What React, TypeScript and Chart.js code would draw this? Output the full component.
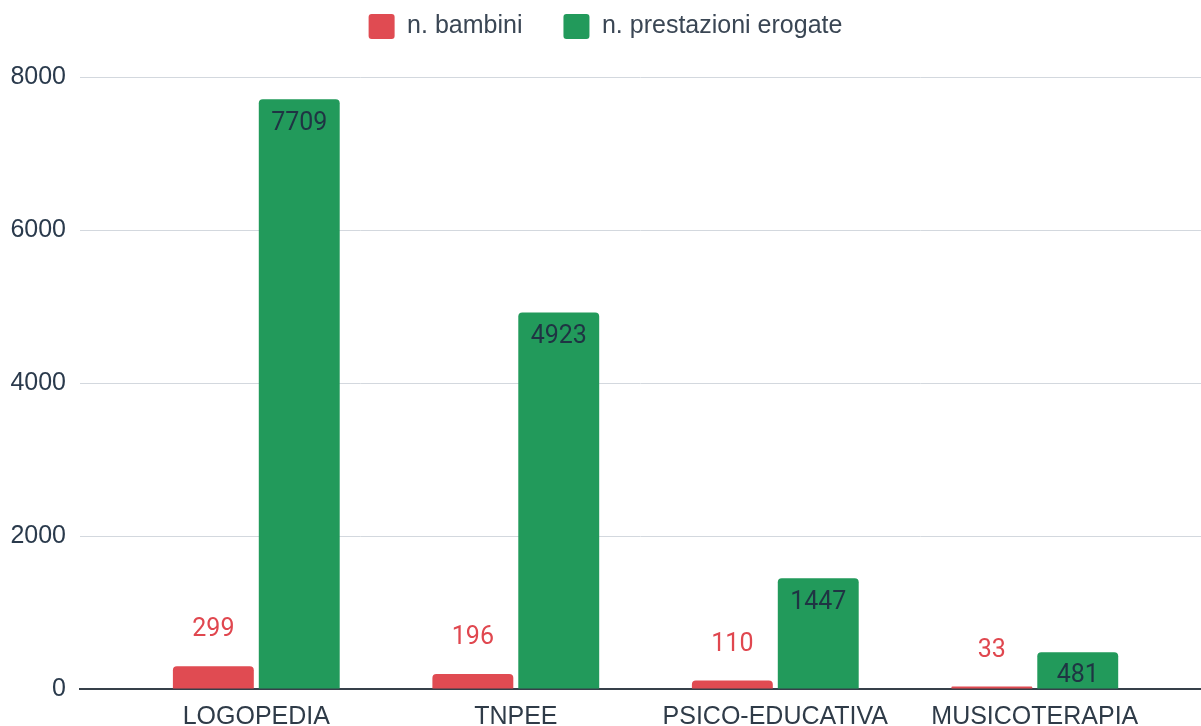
import React, { useEffect, useRef } from "react";
import { Chart, registerables } from "chart.js";

Chart.register(...registerables);

const categories = ["LOGOPEDIA", "TNPEE", "PSICO-EDUCATIVA", "MUSICOTERAPIA"];
const seriesNames = ["n. bambini", "n. prestazioni erogate"];
const bambini = [299, 196, 110, 33];
const prestazioni = [7709, 4923, 1447, 481];
const yMin = 0;
const yMax = 8000;
const yStep = 2000;

const RED = "#e04b52";
const GREEN = "#229a5b";
const RED_LABEL = "#e0474f";
const GREEN_LABEL = "#1f3443";

const CANVAS_H = 760;
const PLOT_BOTTOM = 689;

const valueLabels = {
  id: "valueLabels",
  afterDatasetsDraw(chart: any) {
    const ctx = chart.ctx;
    chart.data.datasets.forEach((ds: any, di: number) => {
      const meta = chart.getDatasetMeta(di);
      meta.data.forEach((bar: any, i: number) => {
        const v = ds.data[i].y;
        const { x, y } = bar.getProps(["x", "y"], true);
        ctx.save();
        ctx.font = "25px Roboto, 'Liberation Sans', Arial, sans-serif";
        ctx.textAlign = "center";
        ctx.textBaseline = "middle";
        ctx.fillStyle = di === 0 ? RED_LABEL : GREEN_LABEL;
        ctx.fillText(String(v), x, di === 0 ? y - 36 : y + 24);
        ctx.restore();
      });
    });
  },
};

const legendHeight = {
  id: "legendHeight",
  beforeInit(chart: any) {
    const legend = chart.legend;
    if (!legend) return;
    const orig = legend.fit;
    legend.fit = function () {
      orig.call(this);
      this.height = 104;
    };
  },
};

export default function App() {
  const ref = useRef<HTMLCanvasElement | null>(null);

  useEffect(() => {
    if (!ref.current) return;
    const chart = new Chart(ref.current, {
      type: "bar",
      data: {
        datasets: [
          {
            label: seriesNames[0],
            data: bambini.map((v, i) => ({ x: i, y: v })),
            backgroundColor: RED,
            borderRadius: 4,
            borderWidth: 0,
          },
          {
            label: seriesNames[1],
            data: prestazioni.map((v, i) => ({ x: i, y: v })),
            backgroundColor: GREEN,
            borderRadius: 4,
            borderWidth: 0,
          },
        ],
      },
      options: {
        animation: false,
        responsive: true,
        maintainAspectRatio: false,
        categoryPercentage: 0.662,
        barPercentage: 0.942,
        layout: { padding: { left: 10, right: 0, top: -27, bottom: 0 } },
        plugins: {
          legend: {
            position: "top",
            labels: {
              boxWidth: 26,
              boxHeight: 25,
              padding: 41,
              useBorderRadius: true,
              borderRadius: 3,
              color: "#3a4654",
              font: { size: 25, family: "'Liberation Sans', Arial, sans-serif" },
            },
          },
          tooltip: { enabled: false },
        },
        scales: {
          x: {
            type: "linear",
            offset: false,
            bounds: "data",
            grace: 0,
            min: (80 - 256.3) / 259.5,
            max: (1201 - 256.3) / 259.5,
            grid: { display: false },
            border: { display: true, color: "#36404a", width: 2 },
            afterBuildTicks(scale: any) {
              scale.ticks = categories.map((_, i) => ({ value: i }));
            },
            afterFit(scale: any) {
              scale.height = CANVAS_H - PLOT_BOTTOM;
              scale.paddingLeft = 0;
              scale.paddingRight = 0;
            },
            ticks: {
              autoSkip: false,
              maxRotation: 0,
              minRotation: 0,
              padding: 5,
              color: "#2f3b48",
              font: { size: 25, family: "'Liberation Sans', Arial, sans-serif" },
              callback: (v: any, idx: number) =>
                categories[Math.round(Number(v))] !== undefined ? categories[Math.round(Number(v))] : categories[idx],
            },
          },
          y: {
            min: yMin,
            max: yMax,
            afterFit(scale: any) {
              scale.width = 70;
            },
            grid: { color: "#d3d8de", lineWidth: 1, drawTicks: false },
            border: { display: false },
            ticks: {
              stepSize: yStep,
              padding: 14,
              color: "#2a3a4c",
              font: { size: 25, family: "'Liberation Sans', Arial, sans-serif" },
              callback: (v: any) => String(v),
            },
          },
        },
      },
      plugins: [legendHeight, valueLabels],
    } as any);
    return () => chart.destroy();
  }, []);

  return (
    <div style={{ position: "fixed", left: 0, top: 0, width: 1201, height: 726, overflow: "hidden", background: "#fff" }}>
      <div style={{ position: "relative", width: 1201, height: CANVAS_H }}>
        <canvas ref={ref} />
      </div>
    </div>
  );
}
